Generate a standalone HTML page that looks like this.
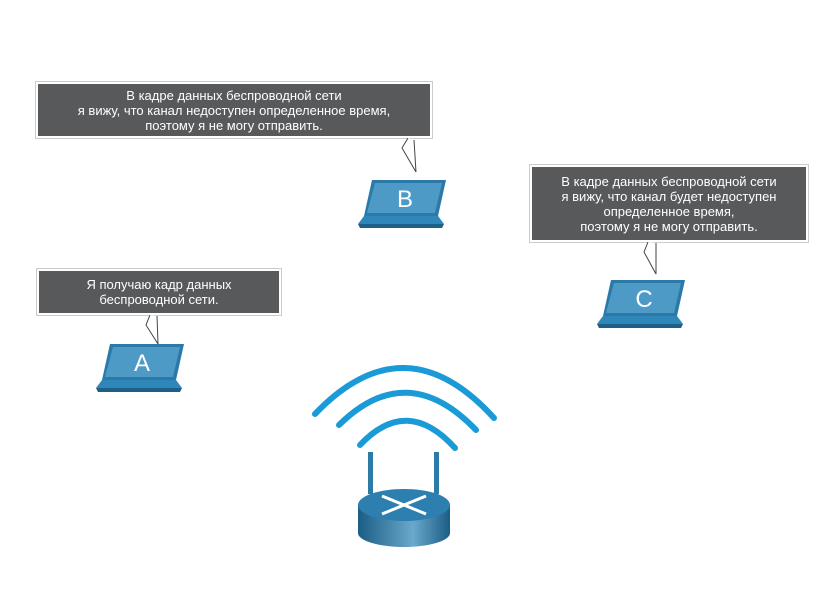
<!DOCTYPE html>
<html><head><meta charset="utf-8"><style>
body{margin:0;width:827px;height:589px;background:#fff;overflow:hidden;position:relative;font-family:"Liberation Sans",sans-serif}
.b{position:absolute;background:#58595b;color:#fff;font-size:13px;line-height:15px;text-align:center;border:2px solid #fff;box-shadow:0 0 0 1px #ccc;box-sizing:border-box;display:flex;flex-direction:column;justify-content:center}
</style></head><body>
<div class="b" style="left:36px;top:82px;width:396px;height:56px">В кадре данных беспроводной сети<br>я вижу, что канал недоступен определенное время,<br>поэтому я не могу отправить.</div>
<div class="b" style="left:530px;top:165px;width:278px;height:77px">В кадре данных беспроводной сети<br>я вижу, что канал будет недоступен<br>определенное время,<br>поэтому я не могу отправить.</div>
<div class="b" style="left:37px;top:269px;width:244px;height:46px">Я получаю кадр данных<br>беспроводной сети.</div>
<svg width="827" height="589" style="position:absolute;left:0;top:0">
<defs>
<g id="lap">
<polygon points="14,0 88,0 80,36 6,36" fill="#2a79a8"/>
<polygon points="17,3 84,3 77,33 9,33" fill="#4d9ac6"/>
<polygon points="6,36 80,36 86,44 0,44" fill="#2f86b8"/>
<polygon points="0,44 86,44 84,48 2,48" fill="#1d5f86"/>
</g>
<linearGradient id="rg" x1="0" x2="1"><stop offset="0" stop-color="#1b5d85"/><stop offset=".6" stop-color="#6aa8cc"/><stop offset="1" stop-color="#1b5d85"/></linearGradient>
</defs>
<g stroke="#444" fill="#fff" stroke-width="1">
<polyline points="408,138 402,148 416,172 414,140"/>
<polyline points="648,242 644,252 656,274 656,243"/>
<polyline points="150,315 146,325 158,344 157,316"/>
</g>
<use href="#lap" x="358" y="180"/>
<text x="405" y="207" font-size="24" fill="#fff" text-anchor="middle" font-family="Liberation Sans">B</text>
<use href="#lap" x="96" y="344"/>
<text x="142" y="371" font-size="24" fill="#fff" text-anchor="middle" font-family="Liberation Sans">A</text>
<use href="#lap" x="597" y="280"/>
<text x="644" y="307" font-size="24" fill="#fff" text-anchor="middle" font-family="Liberation Sans">C</text>
<g fill="none" stroke="#1a9ad6" stroke-width="6" stroke-linecap="round">
<path d="M315,414 Q405,320 494,418"/>
<path d="M339,425 Q407,358 476,430"/>
<path d="M360,445 Q407,395 455,448"/>
</g>
<g fill="#2c7aa6"><rect x="368" y="452" width="5" height="42"/><rect x="434" y="452" width="5" height="42"/></g>
<path d="M358,505 L358,533 A46,14 0 0 0 450,533 L450,505 Z" fill="url(#rg)"/>
<ellipse cx="404" cy="505" rx="46" ry="16" fill="#2c7fae"/>
<g stroke="#fff" stroke-width="3" fill="none"><path d="M382,496 L426,514 M426,496 L382,514"/></g>
</svg>
</body></html>
